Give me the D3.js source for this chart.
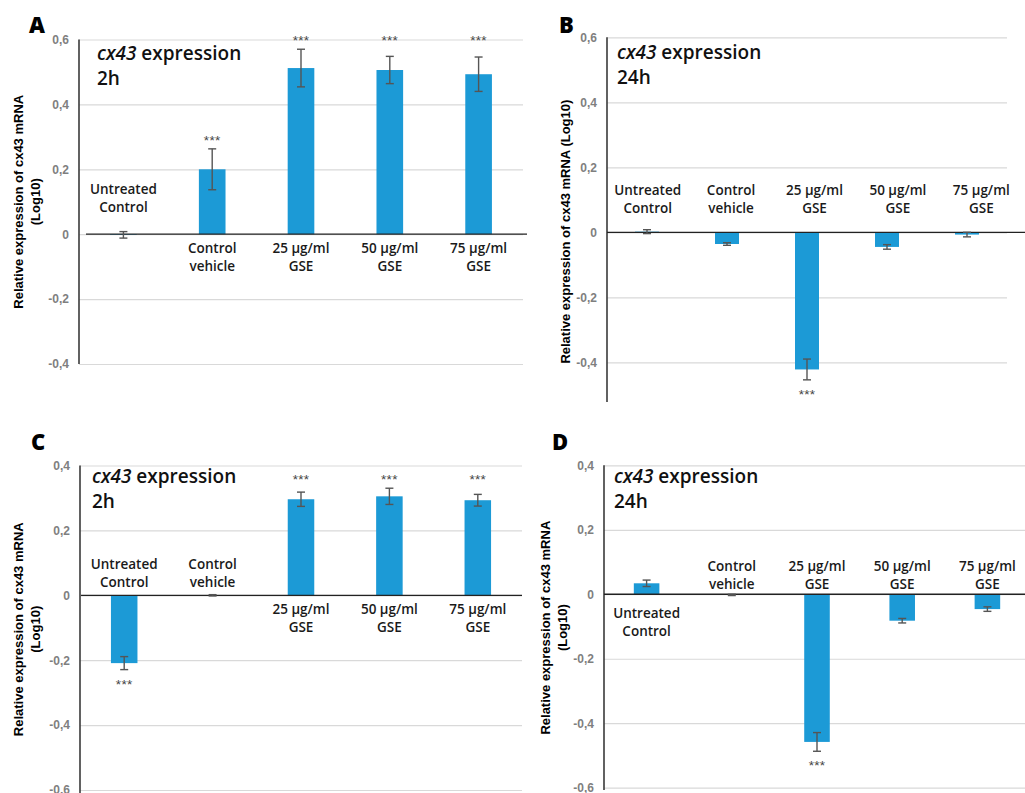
<!DOCTYPE html>
<html>
<head>
<meta charset="utf-8">
<script src="https://cdn.jsdelivr.net/npm/d3@7"></script>
<style>
  html, body { margin: 0; padding: 0; background: #fff; }
  svg { display: block; }
</style>
</head>
<body>
<div id="chart"></div>
<script>
// categories and values
const categories = ["Untreated Control", "Control vehicle", "25 µg/ml GSE", "50 µg/ml GSE", "75 µg/ml GSE"];
const categoryLines = [["Untreated", "Control"], ["Control", "vehicle"], ["25 µg/ml", "GSE"], ["50 µg/ml", "GSE"], ["75 µg/ml", "GSE"]];

const valuesA = [-0.002, 0.200, 0.512, 0.506, 0.493];
const errorsA = [0.010, 0.063, 0.058, 0.042, 0.053];
const starsA = [false, true, true, true, true];

const valuesB = [0.002, -0.036, -0.422, -0.045, -0.007];
const errorsB = [0.006, 0.004, 0.032, 0.007, 0.007];
const starsB = [false, false, true, false, false];

const valuesC = [-0.209, 0.000, 0.296, 0.305, 0.293];
const errorsC = [0.020, 0.002, 0.022, 0.025, 0.018];
const starsC = [true, false, true, true, true];

const valuesD = [0.034, -0.002, -0.458, -0.082, -0.046];
const errorsD = [0.010, 0.002, 0.029, 0.007, 0.007];
const starsD = [false, false, true, false, false];

const ticksTop = [-0.4, -0.2, 0, 0.2, 0.4, 0.6];
const ticksBottom = [-0.6, -0.4, -0.2, 0, 0.2, 0.4];

const titleGene = "cx43";
const titleRest = " expression";
const yLabelMain = "Relative expression of cx43 mRNA";
const yLabelUnit = "(Log10)";

const W = 1025, H = 793;
const barColor = "#1c9ad6";
const labelFont = "'Open Sans', 'Noto Sans', sans-serif";
const axisFont = "'Liberation Sans', Arial, sans-serif";

const locale = d3.formatLocale({ decimal: ",", thousands: ".", grouping: [3], currency: ["", ""], minus: "-" });
const fmt = d => d === 0 ? "0" : locale.format(".1f")(d);

const panels = [
  { letter: "A", values: valuesA, errors: errorsA, stars: starsA, time: "2h", ticks: ticksTop,
    domain: [-0.4, 0.6], yRange: [364, 39.5], axisBottom: 364, x0: 79, x1: 523, zeroStart: 86, zeroEnd: 527,
    letterPos: [29, 33], titlePos: [97, 60], yLabelX: [18, 35], above: 27, below: 14 },
  { letter: "B", values: valuesB, errors: errorsB, stars: starsB, time: "24h", ticks: ticksTop,
    domain: [-0.52, 0.6], yRange: [401.3, 37.3], axisBottom: 402, x0: 607, x1: 1007, zeroStart: 607, zeroEnd: 1025,
    labelRange: [606, 1023],
    letterPos: [559, 33], titlePos: [617, 59], yLabelX: [565], oneLine: true, above: 24, below: 14 },
  { letter: "C", values: valuesC, errors: errorsC, stars: starsC, time: "2h", ticks: ticksBottom,
    domain: [-0.6, 0.4], yRange: [790, 465.5], axisBottom: 793, x0: 80, x1: 522, zeroStart: 81, zeroEnd: 522,
    letterPos: [31, 450], titlePos: [92, 483], yLabelX: [18, 35], above: 13, below: 14 },
  { letter: "D", values: valuesD, errors: errorsD, stars: starsD, time: "24h", ticks: ticksBottom,
    domain: [-0.6, 0.4], yRange: [787.7, 465.3], axisBottom: 790, x0: 604, x1: 1030, zeroStart: 604, zeroEnd: 1025,
    letterPos: [552, 450], titlePos: [614, 483], yLabelX: [545, 562], above: 10, below: 19 }
];

const svg = d3.select("#chart").append("svg")
  .attr("width", W)
  .attr("height", H);

panels.forEach(p => {
  const g = svg.append("g");
  const y = d3.scaleLinear().domain(p.domain).range(p.yRange);
  const x = d3.scaleBand().domain(categories).range([p.x0, p.x1]).paddingInner(0.7).paddingOuter(0.35);
  const xl = d3.scaleBand().domain(categories).range(p.labelRange || [p.x0, p.x1]);
  const gridRight = Math.min(p.x1, W);

  // gridlines + tick labels
  const axis = g.append("g")
    .attr("transform", `translate(${p.x0},0)`)
    .call(d3.axisLeft(y).tickValues(p.ticks).tickFormat(fmt).tickSize(-(gridRight - p.x0)).tickPadding(10));
  axis.select(".domain").remove();
  axis.selectAll(".tick line").attr("stroke", "#d9d9d9").attr("stroke-width", 1.2);
  axis.selectAll(".tick text")
    .attr("fill", "#7f7f7f")
    .style("font-family", axisFont)
    .style("font-weight", "bold")
    .style("font-size", "12px");

  // vertical axis line
  g.append("line")
    .attr("x1", p.x0).attr("x2", p.x0)
    .attr("y1", y(p.domain[1])).attr("y2", p.axisBottom)
    .attr("stroke", "#3a3a3a").attr("stroke-width", 1.6);

  const data = categories.map((c, i) => ({ c, i, v: p.values[i], e: p.errors[i], s: p.stars[i] }));

  // bars
  g.selectAll("rect.bar").data(data).enter().append("rect")
    .attr("class", "bar")
    .attr("x", d => x(d.c))
    .attr("width", x.bandwidth())
    .attr("y", d => y(Math.max(0, d.v)))
    .attr("height", d => Math.abs(y(d.v) - y(0)))
    .attr("fill", barColor);

  // zero line
  g.append("line")
    .attr("x1", p.zeroStart).attr("x2", p.zeroEnd)
    .attr("y1", y(0)).attr("y2", y(0))
    .attr("stroke", "#222").attr("stroke-width", 1.3);

  // error bars
  const eb = g.selectAll("g.err").data(data).enter().append("g").attr("class", "err")
    .attr("stroke", "#555").attr("stroke-width", 1.4);
  const cx = d => x(d.c) + x.bandwidth() / 2;
  eb.append("line").attr("x1", cx).attr("x2", cx)
    .attr("y1", d => y(d.v + d.e)).attr("y2", d => y(d.v - d.e));
  eb.append("line").attr("x1", d => cx(d) - 4).attr("x2", d => cx(d) + 4)
    .attr("y1", d => y(d.v + d.e)).attr("y2", d => y(d.v + d.e));
  eb.append("line").attr("x1", d => cx(d) - 4).attr("x2", d => cx(d) + 4)
    .attr("y1", d => y(d.v - d.e)).attr("y2", d => y(d.v - d.e));

  // significance stars: tall positive bars share one row
  const posTops = data.filter(d => d.s && d.v > 0).map(d => y(d.v + d.e));
  const highest = d3.min(posTops);
  const starY = d => {
    if (d.v > 0) {
      const t = y(d.v + d.e);
      return (t - highest < 20 ? highest : t) - 12;
    }
    return y(d.v - d.e) + 11;
  };
  g.selectAll("text.star").data(data.filter(d => d.s)).enter().append("text")
    .attr("class", "star")
    .attr("x", cx)
    .attr("y", d => starY(d) + 8)
    .attr("text-anchor", "middle")
    .attr("fill", "#444")
    .style("font-family", axisFont)
    .style("font-size", "13.5px")
    .style("letter-spacing", "0.3px")
    .text("***");

  // category labels: above the zero line when the bar points down or is flat
  const lab = g.selectAll("text.cat").data(data).enter().append("text")
    .attr("class", "cat")
    .attr("text-anchor", "middle")
    .attr("fill", "#1a1a1a")
    .style("font-family", labelFont)
    .style("font-weight", 600)
    .style("font-size", "13.5px")
    .attr("transform", d => {
      const lx = xl(d.c) + xl.bandwidth() / 2;
      const below = d.v > 0.01;
      const ly = below ? y(0) + p.below + 5 : y(0) - p.above - 18 + 5;
      return `translate(${lx},${ly})`;
    });
  lab.selectAll("tspan").data(d => categoryLines[d.i]).enter().append("tspan")
    .attr("x", 0)
    .attr("dy", (d, i) => i === 0 ? 0 : 18)
    .text(d => d);

  // panel title
  const t = g.append("text")
    .attr("x", p.titlePos[0]).attr("y", p.titlePos[1])
    .attr("fill", "#111")
    .style("font-family", labelFont)
    .style("font-weight", 600)
    .style("font-size", "19px");
  t.append("tspan").style("font-style", "italic").text(titleGene);
  t.append("tspan").text(titleRest);
  g.append("text")
    .attr("x", p.titlePos[0]).attr("y", p.titlePos[1] + 25)
    .attr("fill", "#111")
    .style("font-family", labelFont)
    .style("font-weight", 600)
    .style("font-size", "19px")
    .text(p.time);

  // panel letter
  g.append("text")
    .attr("x", p.letterPos[0]).attr("y", p.letterPos[1])
    .attr("fill", "#000")
    .style("font-family", labelFont)
    .style("font-weight", 800)
    .style("font-size", "22px")
    .text(p.letter);

  // y axis title
  const midY = (y(p.domain[1]) + p.axisBottom) / 2 + (p.oneLine ? 12 : 0);
  const lines = p.oneLine ? [yLabelMain + " " + yLabelUnit] : [yLabelMain, yLabelUnit];
  lines.forEach((txt, i) => {
    g.append("text")
      .attr("transform", `translate(${p.yLabelX[i]},${midY}) rotate(-90)`)
      .attr("text-anchor", "middle")
      .attr("dy", "0.35em")
      .attr("fill", "#000")
      .style("font-family", axisFont)
      .style("font-weight", "bold")
      .style("font-size", "13px")
      .text(txt);
  });
});
</script>
</body>
</html>
